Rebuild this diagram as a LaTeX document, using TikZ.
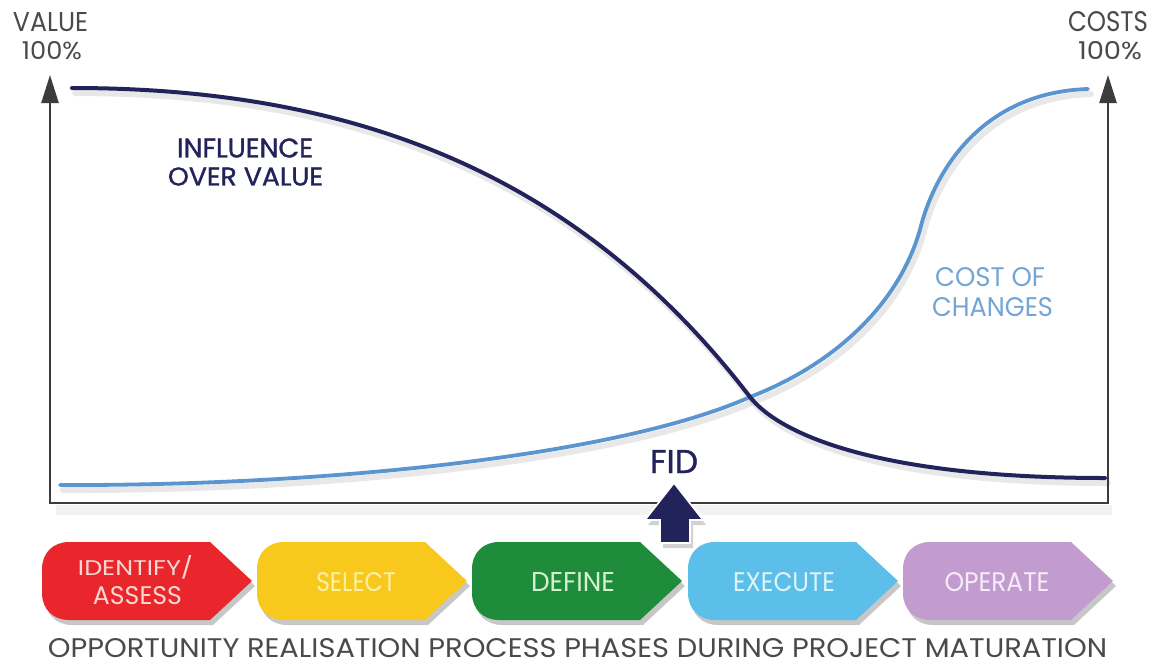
\documentclass[tikz,border=0pt]{standalone}
\usepackage{fontspec}
\setmainfont{Poppins}
\newfontfamily\medfont[FakeBold=1.2]{Poppins}
\usetikzlibrary{arrows.meta}
\definecolor{navy}{HTML}{23235B}
\definecolor{costblue}{HTML}{5A95CF}
\definecolor{axisgray}{HTML}{3C3C3C}
\definecolor{labgray}{HTML}{4A4A4A}
\definecolor{phred}{HTML}{E8262B}
\definecolor{phyellow}{HTML}{F8C81C}
\definecolor{phgreen}{HTML}{1E8C3A}
\definecolor{phblue}{HTML}{5CBFEA}
\definecolor{phpurple}{HTML}{C39CCF}
\definecolor{txred}{HTML}{F9D8D2}
\definecolor{txyellow}{HTML}{FAF0A6}
\definecolor{txgreen}{HTML}{D6F0D2}
\definecolor{txblue}{HTML}{DDF5FA}
\definecolor{txpurple}{HTML}{F5ECF7}
\newcommand{\fitTxt}[3]{\resizebox{#1pt}{#2pt}{#3}}
\newcommand{\phaseShape}[2]{%
  \path[#2] ({#1+27},542) -- ({#1+168},542) -- ({#1+210},581) -- ({#1+168},620) -- ({#1+27},620)
    .. controls ({#1+11},620) and ({#1},609) .. ({#1},593) -- ({#1},569)
    .. controls ({#1},553) and ({#1+11},542) .. ({#1+27},542) -- cycle;}
\newcommand{\valuePath}{(72,88) .. controls (360,88) and (581,177) .. (750,397) .. controls (780,435) and (880,478) .. (1105,478)}
\newcommand{\costPath}{(60,485) .. controls (330,486) and (620,455) .. (750,397) .. controls (838,363) and (903,300) .. (922,222) .. controls (940,160) and (990,92) .. (1088,89)}
\begin{document}
\begin{tikzpicture}[x=1pt,y=-1pt,
  lbl/.style={inner sep=0pt, outer sep=0pt},
  axisline/.style={draw=axisgray, line width=2.4pt, line join=miter},
  valuecurve/.style={draw=navy, line width=4pt, line cap=round},
  costcurve/.style={draw=costblue, line width=3.8pt, line cap=round},
  curveshadow/.style={draw=black, opacity=0.09, line width=6pt, line cap=round},
  phaseshadow/.style={fill=black, opacity=0.22}]
\useasboundingbox[fill=white] (0,0) rectangle (1153,667);

% axes
\coordinate (tl) at (50,75);
\coordinate (bl) at (50,503);
\coordinate (br) at (1108,503);
\coordinate (tr) at (1108,75);
\draw[black, opacity=0.05, line width=10pt] (56,510) -- (1112,510);
\draw[axisline, {Triangle[length=28pt,width=17pt]}-{Triangle[length=28pt,width=17pt]}] (tl) -- (bl) -- (br) -- (tr);

% axis labels
\node[lbl, text=labgray] (vlab) at (50.5,22) {\fitTxt{75}{19}{VALUE}};
\node[lbl, text=labgray] (vpct) at (52,51) {\fitTxt{60}{18}{100\%}};
\node[lbl, text=labgray] (clab) at (1108,22) {\fitTxt{80}{20}{COSTS}};
\node[lbl, text=labgray] (cpct) at (1110,51) {\fitTxt{64}{18}{100\%}};

% curve shadows
\draw[curveshadow, shift={(3,5)}] \valuePath;
\draw[curveshadow, shift={(3,5)}] \costPath;

% cost of changes curve
\draw[costcurve] \costPath;
% influence over value curve
\draw[valuecurve] \valuePath;

% curve labels
\node[lbl, text=navy] (inf1) at (245,148) {\fitTxt{136}{19}{\medfont INFLUENCE}};
\node[lbl, text=navy] (inf2) at (245.5,176.5) {\fitTxt{155}{18}{\medfont OVER VALUE}};
\node[lbl, text=costblue!85] (cost1) at (990,277.5) {\fitTxt{110}{19}{COST OF}};
\node[lbl, text=costblue!85] (cost2) at (992.5,307.5) {\fitTxt{121}{19}{CHANGES}};

% phases
\begin{scope}[shift={(3,5)}]
\phaseShape{42}{phaseshadow}
\phaseShape{257}{phaseshadow}
\phaseShape{472}{phaseshadow}
\phaseShape{688}{phaseshadow}
\phaseShape{903}{phaseshadow}
\end{scope}
\phaseShape{42}{fill=phred}
\phaseShape{257}{fill=phyellow}
\phaseShape{472}{fill=phgreen}
\phaseShape{688}{fill=phblue}
\phaseShape{903}{fill=phpurple}

\node[lbl, text=txred] (p1a) at (135.5,567) {\fitTxt{115}{20}{IDENTIFY/}};
\node[lbl, text=txred] (p1b) at (137.5,596) {\fitTxt{89}{18}{ASSESS}};
\node[lbl, text=txyellow] (p2) at (356,582) {\fitTxt{80}{19}{SELECT}};
\node[lbl, text=txgreen] (p3) at (573,582) {\fitTxt{84}{19}{DEFINE}};
\node[lbl, text=txblue] (p4) at (784,582) {\fitTxt{102}{19}{EXECUTE}};
\node[lbl, text=txpurple] (p5) at (997,582) {\fitTxt{105}{19}{OPERATE}};

% FID arrow
\fill[black, opacity=0.18] (677,488) -- (706,525) -- (693,525) -- (693,548) -- (663,548) -- (663,525) -- (648,525) -- cycle;
\filldraw[fill=navy, draw=white, line width=1.6pt, line join=miter] (674,483) -- (703,520) -- (690,520) -- (690,543) -- (660,543) -- (660,520) -- (645,520) -- cycle;
\node[lbl, text=navy] (fid) at (674,461.5) {\fitTxt{48}{23}{\medfont FID}};

% bottom caption
\node[lbl, text=labgray] (caption) at (577.5,648.5) {\fitTxt{1059}{19}{OPPORTUNITY REALISATION PROCESS PHASES DURING PROJECT MATURATION}};
\end{tikzpicture}
\end{document}
